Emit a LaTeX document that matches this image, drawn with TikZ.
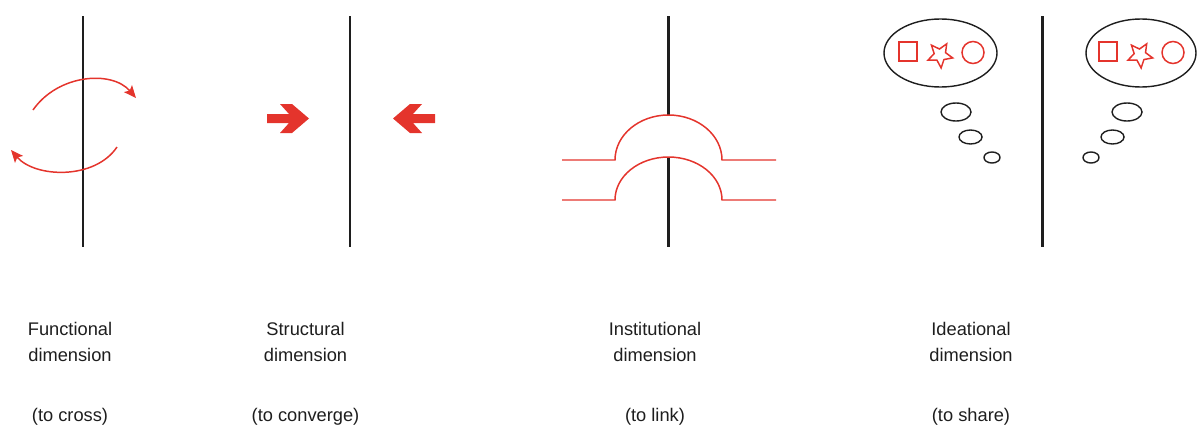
\documentclass[tikz,border=0pt]{standalone}
\usepackage{fontspec}
\setmainfont{Liberation Sans}
\usetikzlibrary{arrows.meta}
\definecolor{cred}{RGB}{228,52,44}
\definecolor{ink}{RGB}{30,30,30}
\begin{document}
\begin{tikzpicture}[x=0.02cm,y=-0.02cm,
  divider/.style={line width=1.7pt,draw=ink},
  redline/.style={draw=cred,line width=0.85pt},
  redarrow/.style={redline,-{Stealth[length=7pt,width=6pt,inset=1.5pt]}},
  blockarrow/.style={fill=cred,draw=none},
  bubble/.style={draw=ink,line width=0.8pt},
  lbl/.style={anchor=base,inner sep=0pt,font=\fontsize{10.4}{12}\selectfont,text=ink}]
\useasboundingbox (0,0) rectangle (1197,426);

% dividers
\coordinate (d1t) at (83,16);  \coordinate (d1b) at (83,247);
\coordinate (d2t) at (350,16); \coordinate (d2b) at (350,247);
\coordinate (d3t) at (668,16); \coordinate (d3m) at (668,115);
\coordinate (d3n) at (668,157); \coordinate (d3b) at (668,247);
\coordinate (d4t) at (1042,16); \coordinate (d4b) at (1042,247);
\draw[divider] (d1t) -- (d1b);
\draw[divider] (d2t) -- (d2b);
\draw[divider] (d3t) -- (d3m);
\draw[divider] (d3n) -- (d3b);
\draw[divider] (d4t) -- (d4b);

% functional: crossing arrows
\draw[redarrow] (33,110) .. controls (58,74) and (112,70) .. (136,98);
\draw[redarrow] (117,147) .. controls (95,180) and (35,178) .. (11,150);

% structural: converging block arrows
\fill[blockarrow] (267,114) -- (289,114) -- (280,104) -- (292,104) -- (309,118.5)
  -- (292,133) -- (280,133) -- (289,123) -- (267,123) -- cycle;
\fill[blockarrow] (435,114) -- (413,114) -- (422,104) -- (410,104) -- (393,118.5)
  -- (410,133) -- (422,133) -- (413,123) -- (435,123) -- cycle;

% institutional: bridge
\draw[redline] (562,160) -- (615,160) arc[start angle=180,end angle=360,x radius=53.5,y radius=45] -- (776,160);
\draw[redline] (562,200) -- (615,200) arc[start angle=180,end angle=360,x radius=53.5,y radius=43] -- (776,200);

% ideational: thought bubbles
\draw[bubble] (940.5,53) ellipse [x radius=56.5,y radius=34];
\draw[redline] (899,42) rectangle (917,61);
\draw[redline,shift={(940,55)}] (85:13) -- (121:6) -- (157:13) -- (193:6) -- (229:13)
  -- (265:6) -- (301:13) -- (337:6) -- (13:13) -- (49:6) -- cycle;
\draw[redline] (973,52.5) circle [radius=11];
\draw[bubble] (956,112) ellipse [x radius=15,y radius=9];
\draw[bubble] (970.5,137) ellipse [x radius=11.5,y radius=7];
\draw[bubble] (992,157.5) ellipse [x radius=8,y radius=5.5];

\draw[bubble] (1141,53) ellipse [x radius=55,y radius=34];
\draw[redline] (1099,42) rectangle (1117,61);
\draw[redline,shift={(1140,55)}] (85:13) -- (121:6) -- (157:13) -- (193:6) -- (229:13)
  -- (265:6) -- (301:13) -- (337:6) -- (13:13) -- (49:6) -- cycle;
\draw[redline] (1173,52.5) circle [radius=11];
\draw[bubble] (1127,112) ellipse [x radius=15,y radius=9];
\draw[bubble] (1112.5,137) ellipse [x radius=11.5,y radius=7];
\draw[bubble] (1091,157.5) ellipse [x radius=8,y radius=5.5];

% labels
\node[lbl] (f1) at (70,335) {Functional};
\node[lbl] (f2) at (70,361) {dimension};
\node[lbl] (f3) at (70,421) {(to cross)};
\node[lbl] (s1) at (305.5,335) {Structural};
\node[lbl] (s2) at (305.5,361) {dimension};
\node[lbl] (s3) at (305.5,421) {(to converge)};
\node[lbl] (i1) at (655,335) {Institutional};
\node[lbl] (i2) at (655,361) {dimension};
\node[lbl] (i3) at (655,421) {(to link)};
\node[lbl] (e1) at (971,335) {Ideational};
\node[lbl] (e2) at (971,361) {dimension};
\node[lbl] (e3) at (971,421) {(to share)};
\end{tikzpicture}
\end{document}
